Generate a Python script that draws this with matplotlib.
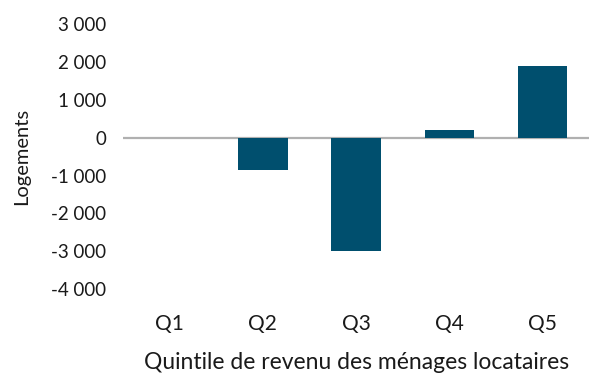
import matplotlib.pyplot as plt
from matplotlib.ticker import FuncFormatter

quintiles = ['Q1', 'Q2', 'Q3', 'Q4', 'Q5']
logements = [0, -850, -3000, 200, 1900]
yticks = [3000, 2000, 1000, 0, -1000, -2000, -3000, -4000]

plt.rcParams['font.family'] = ['Lato', 'DejaVu Sans']

fig = plt.figure(figsize=(5.92, 3.73), dpi=100)
ax = fig.add_axes([0.208, 0.225, 0.787, 0.710])

ax.bar(range(len(quintiles)), logements, width=0.53, color='#004f6e', zorder=2)
ax.axhline(0, color='#b0b0b0', linewidth=1.6, zorder=1)

ax.set_xlim(-0.5, len(quintiles) - 0.5)
ax.set_ylim(-4000, 3000)
ax.set_yticks(yticks)
ax.yaxis.set_major_formatter(FuncFormatter(lambda v, p: f'{int(v):,}'.replace(',', ' ')))
ax.set_xticks(range(len(quintiles)))
ax.set_xticklabels(quintiles)

for s in ax.spines.values():
    s.set_visible(False)
ax.tick_params(axis='both', length=0, colors='#1a1a1a')
ax.tick_params(axis='y', labelsize=13.5, pad=12)
ax.tick_params(axis='x', labelsize=15, pad=18)

ax.set_ylabel('Logements', fontsize=14.5, color='#1a1a1a', labelpad=15)
ax.set_xlabel('Quintile de revenu des ménages locataires', fontsize=16.5,
              color='#1a1a1a', labelpad=13)

fig.savefig('out.png', dpi=100)
